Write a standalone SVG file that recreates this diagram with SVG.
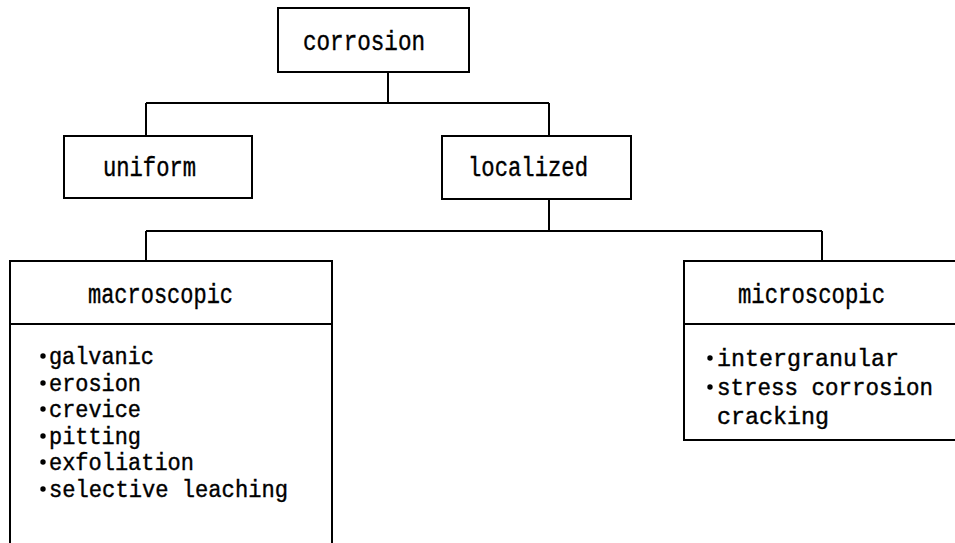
<svg xmlns="http://www.w3.org/2000/svg" width="955" height="543" viewBox="0 0 955 543">
<style>
  .box { fill: #fff; stroke: #000; stroke-width: 2; }
  .ln { fill: none; stroke: #000; stroke-width: 2; }
  .t { font-family: "Liberation Mono", "DejaVu Sans Mono", monospace; font-size: 27px; fill: #000; stroke: #000; stroke-width: 0.4; }
  .ti { font-family: "Liberation Mono", "DejaVu Sans Mono", monospace; font-size: 23.5px; fill: #000; stroke: #000; stroke-width: 0.4; }
  .tb { font-family: "Liberation Mono", "DejaVu Sans Mono", monospace; font-size: 23.5px; fill: #000; stroke: #000; stroke-width: 0.4; }
  .dot { fill: #000; }
</style>
<rect width="955" height="543" fill="#fff"/>
<g id="connectors">
  <path class="ln" d="M388 72 V103 M146 103 H549 M146 103 V136 M549 103 V136"/>
  <path class="ln" d="M549 199 V231 M146 231 H822 M146 231 V261 M822 231 V261"/>
</g>
<g id="corrosion">
  <rect class="box" x="278" y="8" width="191" height="64"/>
  <text class="t" x="303" y="50" textLength="122" lengthAdjust="spacingAndGlyphs">corrosion</text>
</g>
<g id="uniform">
  <rect class="box" x="64" y="136" width="188" height="62"/>
  <text class="t" x="103" y="176" textLength="93" lengthAdjust="spacingAndGlyphs">uniform</text>
</g>
<g id="localized">
  <rect class="box" x="442" y="136" width="189" height="63"/>
  <text class="t" x="468" y="176" textLength="120" lengthAdjust="spacingAndGlyphs">localized</text>
</g>
<g id="macroscopic">
  <path class="ln" d="M10 543 V261 H332 V543 M10 324 H332"/>
  <text class="t" x="88" y="303" textLength="145" lengthAdjust="spacingAndGlyphs">macroscopic</text>
  <circle class="dot" cx="43" cy="356" r="2.7"/>
  <text class="ti" x="49" y="364" textLength="105" lengthAdjust="spacingAndGlyphs">galvanic</text>
  <circle class="dot" cx="43" cy="383" r="2.7"/>
  <text class="ti" x="49" y="391" textLength="92" lengthAdjust="spacingAndGlyphs">erosion</text>
  <circle class="dot" cx="43" cy="409" r="2.7"/>
  <text class="ti" x="49" y="417" textLength="92" lengthAdjust="spacingAndGlyphs">crevice</text>
  <circle class="dot" cx="43" cy="436" r="2.7"/>
  <text class="ti" x="49" y="444" textLength="92" lengthAdjust="spacingAndGlyphs">pitting</text>
  <circle class="dot" cx="43" cy="462" r="2.7"/>
  <text class="ti" x="49" y="470" textLength="145" lengthAdjust="spacingAndGlyphs">exfoliation</text>
  <circle class="dot" cx="43" cy="489" r="2.7"/>
  <text class="ti" x="49" y="497" textLength="239" lengthAdjust="spacingAndGlyphs">selective leaching</text>
</g>
<g id="microscopic">
  <path class="ln" d="M955 261 H684 V440 H955 M684 324 H955"/>
  <text class="t" x="738" y="303" textLength="147" lengthAdjust="spacingAndGlyphs">microscopic</text>
  <circle class="dot" cx="710" cy="358" r="2.7"/>
  <text class="tb" x="717" y="366" textLength="182" lengthAdjust="spacingAndGlyphs">intergranular</text>
  <circle class="dot" cx="710" cy="387" r="2.7"/>
  <text class="tb" x="717" y="395" textLength="216" lengthAdjust="spacingAndGlyphs">stress corrosion</text>
  <text class="tb" x="717" y="424" textLength="112" lengthAdjust="spacingAndGlyphs">cracking</text>
</g>
</svg>
